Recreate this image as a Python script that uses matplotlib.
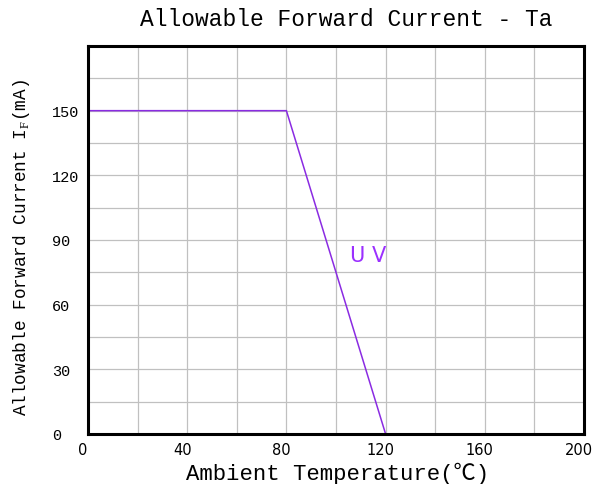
import matplotlib
matplotlib.use("Agg")
import matplotlib.pyplot as plt
from matplotlib.transforms import ScaledTranslation

# derating curve
temps = [0, 80, 120]
current = [150, 150, 0]
curve_label = "U V"

x_ticks = [0, 40, 80, 120, 160, 200]
y_ticks = [0, 30, 60, 90, 120, 150]

mono = ["Liberation Mono", "DejaVu Sans Mono", "Noto Sans CJK SC"]
plt.rcParams["mathtext.fontset"] = "custom"
plt.rcParams["mathtext.rm"] = "Liberation Serif"

fig = plt.figure(figsize=(5.94, 4.85), dpi=100)
ax = fig.add_axes([88 / 594, 1 - 435 / 485, 496 / 594, 388 / 485])

ax.plot(temps, current, color="#8a2be2", lw=1.1, solid_joinstyle="miter")
ax.text(105.5, 83, curve_label, color="#9b30ff", fontsize=15,
        family="DejaVu Sans", va="center", ha="left")

ax.set_xlim(0, 200)
ax.set_ylim(0, 180)
ax.set_xticks(range(0, 201, 20), minor=True)
ax.set_yticks(range(0, 181, 15), minor=True)
ax.set_xticks(x_ticks)
ax.set_yticks(y_ticks)
ax.set_xticklabels([str(v) for v in x_ticks], family="DejaVu Sans", fontsize=10.5)
ax.set_yticklabels([str(v) for v in y_ticks], family=mono, fontsize=11, ha="left")
ax.tick_params(which="both", length=0)
ax.tick_params(axis="y", pad=26)
ax.tick_params(axis="x", pad=6)
# labels sit a little left of their gridlines in the original
shift = ScaledTranslation(-5 / 100, 0, fig.dpi_scale_trans)
for lbl in ax.get_xticklabels():
    lbl.set_transform(lbl.get_transform() + shift)
ax.grid(which="both", color="#c0c0c0", lw=0.9)
ax.set_axisbelow(True)
for s in ax.spines.values():
    s.set_linewidth(2.2)
    s.set_color("black")

fig.text(346 / 594, 1 - 20 / 485, "Allowable Forward Current - Ta",
         family=mono, fontsize=16.5, ha="center", va="center")
fig.text(338 / 594, 1 - 474 / 485, "Ambient Temperature(\u2103)",
         family=mono, fontsize=16, ha="center", va="center")
fig.text(22 / 594, 1 - 248 / 485, r"Allowable Forward Current I$_{\mathrm{F}}$(mA)",
         family=mono, fontsize=12.8, ha="center", va="center", rotation=90)

fig.savefig("out.png", dpi=100)
